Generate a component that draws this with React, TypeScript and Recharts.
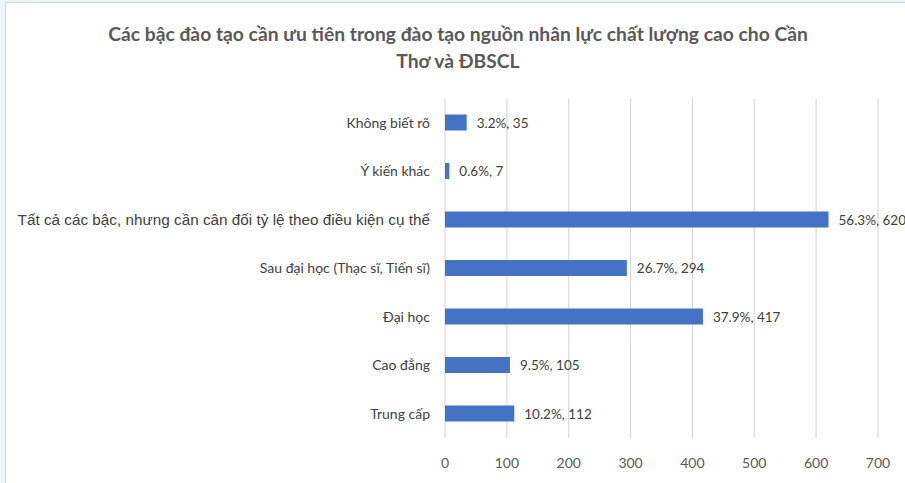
import React from "react";
import { BarChart, Bar, XAxis, YAxis, CartesianGrid, LabelList } from "recharts";

const categories = [
  "Không biết rõ",
  "Ý kiến khác",
  "Tất cả các bậc, nhưng cần cân đối tỷ lệ theo điều kiện cụ thể",
  "Sau đại học (Thạc sĩ, Tiến sĩ)",
  "Đại học",
  "Cao đẳng",
  "Trung cấp",
];
const counts = [35, 7, 620, 294, 417, 105, 112];
const percents = ["3.2%", "0.6%", "56.3%", "26.7%", "37.9%", "9.5%", "10.2%"];
const xTicks = [0, 100, 200, 300, 400, 500, 600, 700];
const titleLines = [
  "Các bậc đào tạo cần ưu tiên trong đào tạo nguồn nhân lực chất lượng cao cho Cần",
  "Thơ và ĐBSCL",
];

const data = categories.map((c, i) => ({ name: c, value: counts[i], pct: percents[i] }));

const CALIBRI = "Lato, 'Open Sans', sans-serif";
const ARIAL = "'Liberation Sans', Arial, sans-serif";

const YTick = (props: any) => {
  const { x, y, payload } = props;
  const isLong = String(payload.value).startsWith("Tất cả");
  return (
    <text
      x={x}
      y={y}
      dy={5}
      textAnchor="end"
      fill="#404040"
      fontSize={isLong ? 15.3 : 14}
      fontFamily={isLong ? ARIAL : CALIBRI}
    >
      {payload.value}
    </text>
  );
};

const XTick = (props: any) => {
  const { x, y, payload } = props;
  return (
    <text x={x} y={y} dy={22} textAnchor="middle" fill="#595959" fontSize={14} fontFamily={CALIBRI}>
      {payload.value}
    </text>
  );
};

const DataLabel = (props: any) => {
  const { x, y, width, height, index } = props;
  const d = data[index];
  return (
    <text
      x={x + width + 10}
      y={y + height / 2}
      dy={5}
      textAnchor="start"
      fill="#404040"
      fontSize={13.5}
      fontFamily={CALIBRI}
    >
      {`${d.pct}, ${d.value}`}
    </text>
  );
};

export default function App() {
  return (
    <div
      style={{
        position: "absolute",
        left: 0,
        top: 0,
        width: 905,
        height: 483,
        background: "#EAF6FC",
        overflow: "hidden",
      }}
    >
      <div
        style={{
          position: "absolute",
          left: 5,
          top: 2,
          width: 905,
          height: 490,
          background: "#ffffff",
          borderLeft: "1.5px solid #d6d6d6",
          borderTop: "1.5px solid #d6d6d6",
        }}
      />
      <div
        style={{
          position: "absolute",
          left: 0,
          top: 20,
          width: 916,
          textAlign: "center",
          fontFamily: CALIBRI,
          fontWeight: 700,
          fontSize: 19.3,
          lineHeight: "27px",
          color: "#595959",
        }}
      >
        {titleLines.map((t, i) => (
          <div key={i}>{t}</div>
        ))}
      </div>
      <div style={{ position: "absolute", left: 0, top: 0 }}>
        <BarChart
          width={905}
          height={483}
          data={data}
          layout="vertical"
          margin={{ top: 98.5, right: 27, bottom: 0, left: 0 }}
        >
          <CartesianGrid horizontal={false} stroke="#d9d9d9" strokeWidth={1.2} />
          <XAxis
            type="number"
            domain={[0, 700]}
            ticks={xTicks}
            axisLine={false}
            tickLine={false}
            tick={<XTick />}
            height={45}
          />
          <YAxis
            type="category"
            dataKey="name"
            width={445}
            axisLine={false}
            tickLine={false}
            tick={<YTick />}
            tickMargin={9}
            interval={0}
          />
          <Bar dataKey="value" fill="#4472C4" barSize={16} isAnimationActive={false}>
            <LabelList dataKey="value" content={<DataLabel />} />
          </Bar>
        </BarChart>
      </div>
    </div>
  );
}
